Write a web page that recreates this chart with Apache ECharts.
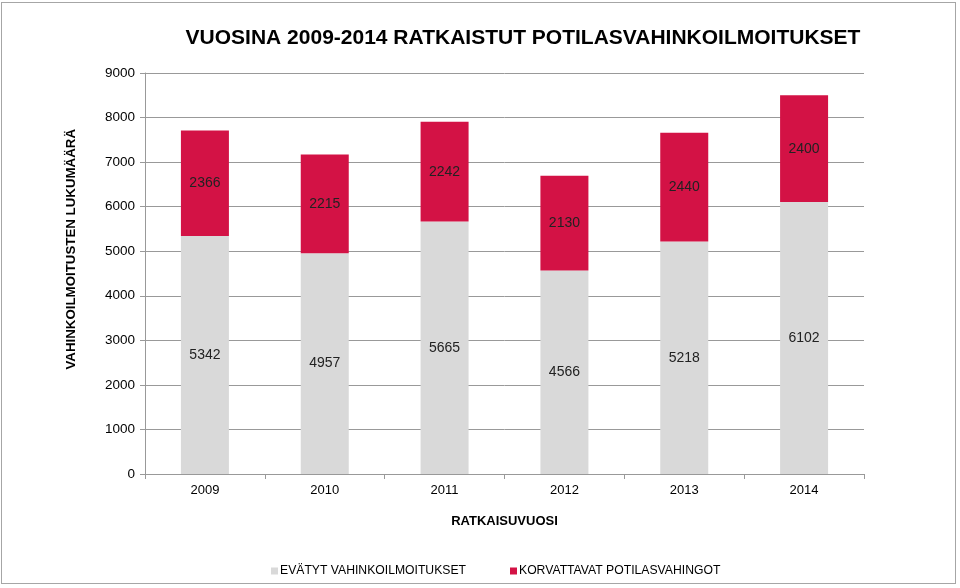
<!DOCTYPE html>
<html><head><meta charset="utf-8">
<script src="https://cdn.jsdelivr.net/npm/echarts@6/dist/echarts.min.js"></script>
<style>html,body{margin:0;padding:0;background:#fff}#c{width:960px;height:588px;position:relative}
#frame{position:absolute;left:1px;top:2px;width:955px;height:582px;border:1px solid #a6a6a6;box-sizing:border-box;pointer-events:none}</style>
</head><body><div id="c"></div><div id="frame"></div>
<script>
const categories = ['2009','2010','2011','2012','2013','2014'];
const denied = [5342, 4957, 5665, 4566, 5218, 6102];
const compensated = [2366, 2215, 2242, 2130, 2440, 2400];
const yTicks = {min: 0, max: 9000, interval: 1000};

const chart = echarts.init(document.getElementById('c'), null, {renderer: 'canvas'});
const font = 'Liberation Sans, Arial, sans-serif';
chart.setOption({
  animation: false,
  textStyle: {fontFamily: font},
  title: {
    text: 'VUOSINA 2009-2014 RATKAISTUT POTILASVAHINKOILMOITUKSET',
    left: 518, top: 23, textAlign: 'center',
    textStyle: {fontFamily: font, fontSize: 21, fontWeight: 'bold', color: '#000'}
  },
  graphic: [{
    type: 'text', left: 65, top: 129, rotation: Math.PI / 2,
    style: {text: 'VAHINKOILMOITUSTEN LUKUMÄÄRÄ', fontFamily: font, fontSize: 13.3, fontWeight: 'bold', fill: '#000'}
  }],
  grid: {left: 145, right: 96, top: 73, bottom: 114},
  legend: {
    bottom: 6, left: 266, itemWidth: 7, itemHeight: 7, itemGap: 44,
    icon: 'rect',
    textStyle: {fontFamily: font, fontSize: 12.2, color: '#000', padding: [0, 0, 0, -3]},
    data: ['EVÄTYT VAHINKOILMOITUKSET', 'KORVATTAVAT POTILASVAHINGOT']
  },
  xAxis: {
    type: 'category', data: categories,
    name: 'RATKAISUVUOSI', nameLocation: 'middle', nameGap: 41,
    nameTextStyle: {fontFamily: font, fontSize: 13, fontWeight: 'bold', color: '#000'},
    axisLine: {lineStyle: {color: '#999'}},
    axisTick: {show: true, length: 5, lineStyle: {color: '#999'}},
    axisLabel: {fontSize: 13, color: '#000', margin: 10}
  },
  yAxis: {
    type: 'value', min: yTicks.min, max: yTicks.max, interval: yTicks.interval,
    axisLine: {show: true, lineStyle: {color: '#999'}},
    axisTick: {show: true, length: 5, lineStyle: {color: '#999'}},
    axisLabel: {fontSize: 13.5, color: '#000', margin: 10, formatter: v => String(v)},
    splitLine: {lineStyle: {color: '#999'}}
  },
  series: [
    {name: 'EVÄTYT VAHINKOILMOITUKSET', type: 'bar', stack: 't', data: denied, barWidth: 48,
     itemStyle: {color: '#d9d9d9'},
     label: {show: true, position: 'inside', color: '#222', fontSize: 14, fontFamily: font}},
    {name: 'KORVATTAVAT POTILASVAHINGOT', type: 'bar', stack: 't', data: compensated, barWidth: 48,
     itemStyle: {color: '#d31245'},
     label: {show: true, position: 'inside', color: '#222', fontSize: 14, fontFamily: font}}
  ]
});
</script></body></html>
